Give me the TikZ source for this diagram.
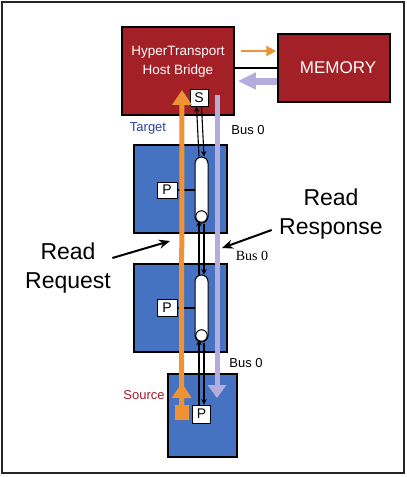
\documentclass[tikz,border=0pt]{standalone}
\usepackage{fontspec}
\setmainfont{Liberation Sans}
\newfontfamily\busserif{Liberation Serif}
\usetikzlibrary{arrows.meta,calc}
\definecolor{htred}{RGB}{163,32,38}
\definecolor{htblue}{RGB}{70,114,194}
\definecolor{htorange}{RGB}{238,146,52}
\definecolor{htlav}{RGB}{180,172,220}
\definecolor{tgtblue}{RGB}{45,65,160}
\definecolor{srcred}{RGB}{165,30,40}
\begin{document}
\begin{tikzpicture}[x=1pt,y=-1pt,
  redbox/.style={draw=black,line width=1.5pt,fill=htred,inner sep=0pt},
  bluebox/.style={draw=black,line width=1.5pt,fill=htblue,inner sep=0pt},
  pbox/.style={draw=black,line width=0.9pt,fill=white,inner sep=0pt,minimum width=19pt,minimum height=17pt,font=\fontsize{14}{14}\selectfont},
  capsule/.style={draw=black,line width=1pt,fill=white,rounded corners=6.5pt,minimum width=13pt,minimum height=66pt,inner sep=0pt},
  endcirc/.style={circle,draw=black,line width=1pt,fill=white,minimum size=11.5pt,inner sep=0pt},
  busline/.style={draw=black,line width=1.1pt},
  busarrow/.style={busline,-{Stealth[length=5.5pt,width=5.5pt]}},
  orangearrow/.style={draw=htorange,line width=5pt,-{Triangle[length=15pt,width=19pt]}},
  lavarrow/.style={draw=htlav,line width=5pt,-{Triangle[length=13pt,width=18pt]}},
  labelarrow/.style={draw=black,line width=2pt,-{Stealth[length=11pt,width=9pt]}},
  bigtext/.style={font=\fontsize{23}{29}\selectfont,align=center},
  bustext/.style={font=\fontsize{13}{13}\selectfont}
]
\useasboundingbox (0,0) rectangle (407,477);
\draw[line width=1.5pt,draw=black!85] (2,2) rectangle (404,473);

% boxes
\node[redbox,minimum width=112pt,minimum height=88pt] (bridge) at (178,71) {};
\node[text=white,align=center,font=\fontsize{13.5}{19}\selectfont] (bridgetxt) at (178,62) {HyperTransport\\Host Bridge};
\node[redbox,minimum width=112pt,minimum height=68pt,text=white,font=\fontsize{17}{17}\selectfont] (memory) at (334,68) {\hspace{8pt}MEMORY};
\node[bluebox,minimum width=93pt,minimum height=88pt] (box1) at (180.5,189) {};
\node[bluebox,minimum width=93pt,minimum height=88pt] (box2) at (180.5,308) {};
\node[bluebox,minimum width=69pt,minimum height=83pt] (box3) at (202.5,415.5) {};

% S and P
\node[pbox,minimum width=18pt] (S) at (199,97.5) {S};
\node[pbox,minimum width=20pt,minimum height=16pt] (P1) at (167,190) {P};
\node[pbox,minimum width=20pt,minimum height=17pt] (P2) at (167,308) {P};
\node[pbox,minimum width=18pt,minimum height=18pt] (P3) at (201.5,414) {P};

% capsules
\node[capsule] (cap1) at (201.5,190) {};
\node[endcirc] (circ1) at (201.5,216.5) {};
\node[capsule,minimum height=67pt] (cap2) at (201.5,308.5) {};
\node[endcirc] (circ2) at (201.5,335.5) {};
\draw[busline] (P1.east) -- (P1.east -| cap1.west);
\draw[busline] (P2.east) -- (P2.east -| cap2.west);

% bus lines
\draw[busarrow] ([xshift=-2.5pt]cap1.north) -- ([xshift=-2.5pt]S.south);
\draw[busarrow] ([xshift=2.5pt]S.south) -- ([xshift=2.5pt]cap1.north);
\draw[busarrow] ([xshift=-2.5pt]cap2.north) -- ([xshift=-2.5pt,yshift=2pt]circ1.south);
\draw[busarrow] ([xshift=2.5pt]cap1.south) -- ([xshift=2.5pt]cap2.north);
\draw[busarrow] ([xshift=-2.5pt]P3.north) -- ([xshift=-2.5pt,yshift=2pt]circ2.south);
\draw[busarrow] ([xshift=2.5pt]cap2.south) -- ([xshift=2.5pt]P3.north);

% bridge - memory
\draw[draw=htorange,line width=2.8pt,-{Triangle[length=10pt,width=10pt]}] ([xshift=6pt,yshift=20pt]bridge.east) -- ([xshift=-1pt,yshift=17pt]memory.west);
\draw[draw=black,line width=2.5pt] (memory.west -| bridge.east) -- (memory.west);
\draw[draw=htlav,line width=7pt,-{Triangle[length=18pt,width=16pt]}] ([yshift=-13pt]memory.west) -- ([xshift=3pt,yshift=-10pt]bridge.east);

% read request (orange) and response (lavender)
\node[fill=htorange,inner sep=0pt,minimum width=14pt,minimum height=15pt] (osq) at (181.5,412.5) {};
\coordinate (reqtop) at (182,90);
\coordinate (reqmid) at (182,383);
\draw[orangearrow] (osq.north) -- (reqtop);
\draw[orangearrow] (osq.north) -- (reqmid);
\coordinate (respstart) at (217,95);
\coordinate (respend) at (217,398);
\draw[lavarrow] (respstart) -- (respend);

% labels
\node[text=tgtblue,font=\fontsize{13}{13}\selectfont] (target) at (148,128) {Target};
\node[text=srcred,font=\fontsize{13}{13}\selectfont] (source) at (144,395) {Source};
\node[bustext] (bus1) at (248,130) {Bus 0};
\node[font=\busserif\fontsize{14}{14}\selectfont] (bus2) at (252,256) {Bus 0};
\node[bustext] (bus3) at (246,363) {Bus 0};

\node[bigtext] (reqlabel) at (68,268) {Read\\Request};
\node[bigtext] (resplabel) at (331,214) {Read\\Response};
\coordinate (reqtip) at (170,241);
\coordinate (resptip) at (222,248);
\draw[labelarrow] ([xshift=-2pt,yshift=10pt]reqlabel.east) -- (reqtip);
\draw[labelarrow] ([xshift=-4pt,yshift=-16pt]resplabel.west) -- (resptip);
\end{tikzpicture}
\end{document}
